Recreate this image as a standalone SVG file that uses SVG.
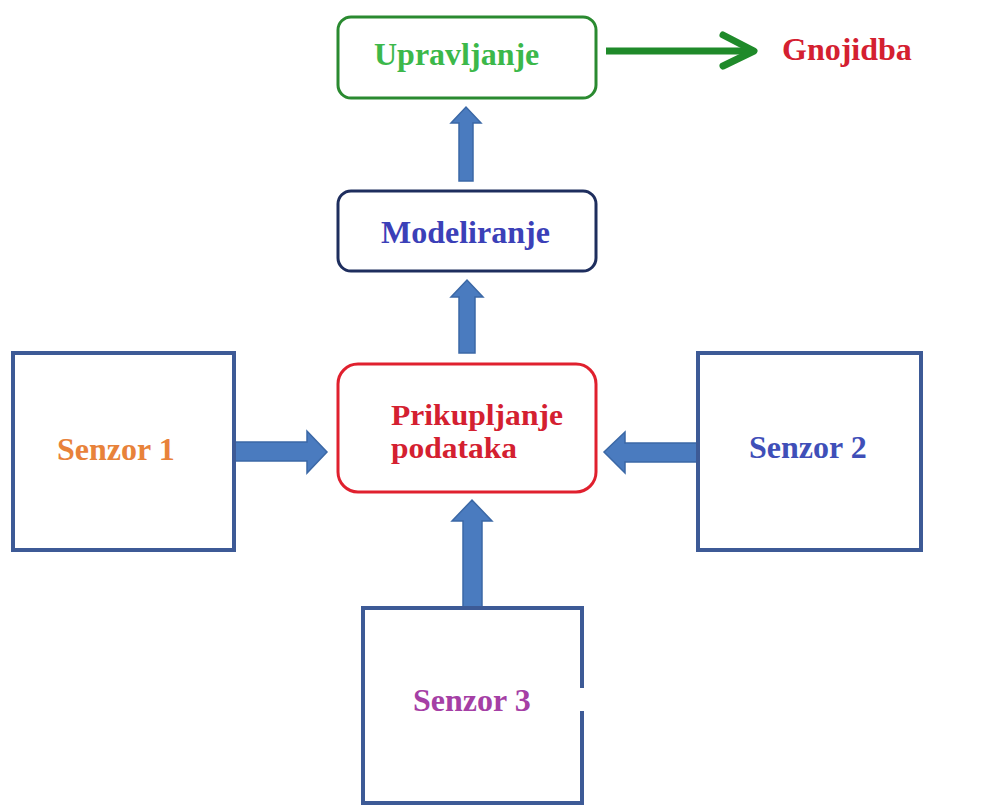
<svg xmlns="http://www.w3.org/2000/svg" width="1002" height="805" viewBox="0 0 1002 805">
  <style>
    .lbl { font-family: "Liberation Serif", "Times New Roman", serif; font-weight: bold; font-size: 32px; }
    .two { font-size: 29px; }
    .sensor { fill: #ffffff; stroke: #3d5a96; stroke-width: 4; }
    .blk { fill: #4a7bbf; stroke: #3b68a6; stroke-width: 1.5; stroke-linejoin: miter; }
  </style>
  <rect width="1002" height="805" fill="#ffffff"/>

  <g id="connectors">
    <polygon class="blk" points="459,181 459,123 451,123 466,107 481,123 473,123 473,181"/>
    <polygon class="blk" points="459,353 459,297 451,297 467,280 483,297 475,297 475,353"/>
    <polygon class="blk" points="463,608 463,521 452,521 472,500 492,521 482,521 482,608"/>
    <polygon class="blk" points="234,442 307,442 307,431 327,452 307,473 307,461 234,461"/>
    <polygon class="blk" points="698,443 625,443 625,432 604,452 625,473 625,462 698,462"/>
    <g id="green-arrow" fill="none" stroke="#1f8a2a" stroke-width="7">
      <line x1="606" y1="51" x2="750" y2="51"/>
      <polyline points="723,35 754,51 723,66" stroke-linecap="round" stroke-linejoin="round"/>
    </g>
  </g>

  <g id="upravljanje">
    <rect x="338" y="17" width="258" height="81" rx="13" fill="#ffffff" stroke="#2a8a30" stroke-width="3"/>
    <text class="lbl" x="374" y="65" fill="#3cb84a">Upravljanje</text>
  </g>

  <g id="gnojidba">
    <text class="lbl" x="782" y="60" fill="#d42030">Gnojidba</text>
  </g>

  <g id="modeliranje">
    <rect x="338" y="191" width="258" height="80" rx="13" fill="#ffffff" stroke="#1e2e5e" stroke-width="3"/>
    <text class="lbl" x="381" y="243" fill="#3b40b8">Modeliranje</text>
  </g>

  <g id="prikupljanje">
    <rect x="338" y="364" width="258" height="128" rx="20" fill="#ffffff" stroke="#e0202e" stroke-width="3"/>
    <text class="lbl two" x="391" y="425" fill="#d42030" textLength="172" lengthAdjust="spacingAndGlyphs">Prikupljanje</text>
    <text class="lbl two" x="391" y="458" fill="#d42030" textLength="126" lengthAdjust="spacingAndGlyphs">podataka</text>
  </g>

  <g id="senzor1">
    <rect class="sensor" x="13" y="353" width="221" height="197"/>
    <text class="lbl" x="57" y="460" fill="#e8823a">Senzor 1</text>
  </g>

  <g id="senzor2">
    <rect class="sensor" x="698" y="353" width="223" height="197"/>
    <text class="lbl" x="749" y="458" fill="#3f4fb8">Senzor 2</text>
  </g>

  <g id="senzor3">
    <path class="sensor" d="M582,688 L582,608 L363,608 L363,803 L582,803 L582,711"/>
    <text class="lbl" x="413" y="711" fill="#a53fa5">Senzor 3</text>
  </g>
</svg>
